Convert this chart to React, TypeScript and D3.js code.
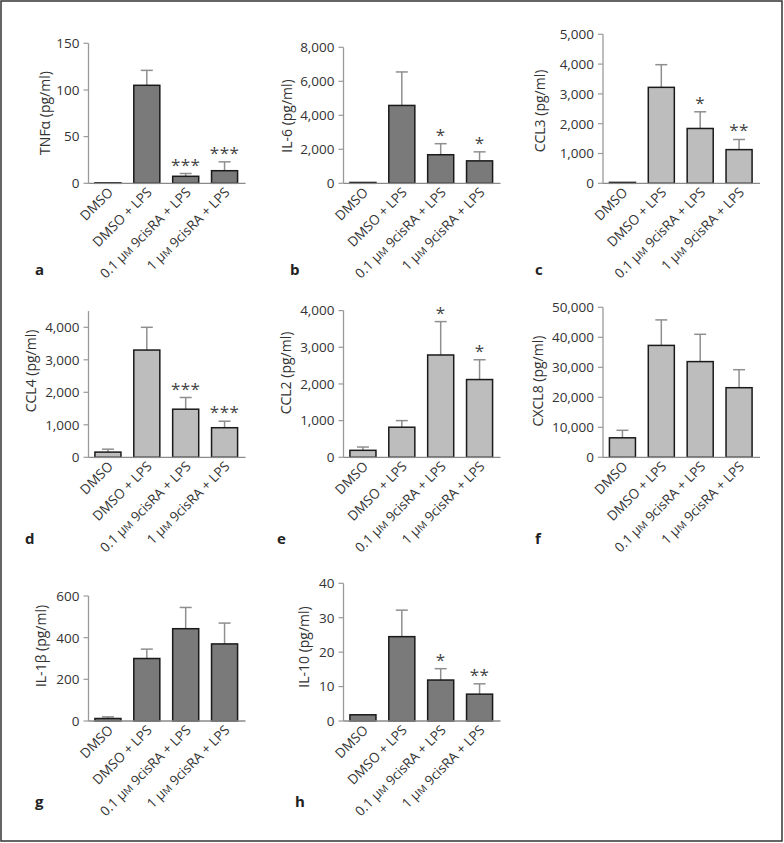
import React from "react";
import * as d3 from "d3";

const categories = ["DMSO", "DMSO + LPS", "0.1 μM 9cisRA + LPS", "1 μM 9cisRA + LPS"];

// a TNFα
const tnfMean = [0.5, 105, 7.5, 13.5];
const tnfErr = [0, 16, 3, 9.5];
const tnfStars = ["", "", "***", "***"];
const tnfTicks = [0, 50, 100, 150];
// b IL-6
const il6Mean = [50, 4580, 1680, 1320];
const il6Err = [0, 1970, 650, 530];
const il6Stars = ["", "", "*", "*"];
const il6Ticks = [0, 2000, 4000, 6000, 8000];
// c CCL3
const ccl3Mean = [30, 3220, 1840, 1130];
const ccl3Err = [0, 760, 560, 340];
const ccl3Stars = ["", "", "*", "**"];
const ccl3Ticks = [0, 1000, 2000, 3000, 4000, 5000];
// d CCL4
const ccl4Mean = [160, 3300, 1480, 910];
const ccl4Err = [90, 700, 360, 200];
const ccl4Stars = ["", "", "***", "***"];
const ccl4Ticks = [0, 1000, 2000, 3000, 4000];
// e CCL2
const ccl2Mean = [190, 820, 2790, 2120];
const ccl2Err = [90, 180, 910, 540];
const ccl2Stars = ["", "", "*", "*"];
const ccl2Ticks = [0, 1000, 2000, 3000, 4000];
// f CXCL8
const cxcl8Mean = [6500, 37300, 31900, 23200];
const cxcl8Err = [2500, 8500, 9100, 6000];
const cxcl8Stars = ["", "", "", ""];
const cxcl8Ticks = [0, 10000, 20000, 30000, 40000, 50000];
// g IL-1β
const il1bMean = [12, 300, 443, 370];
const il1bErr = [8, 45, 102, 100];
const il1bStars = ["", "", "", ""];
const il1bTicks = [0, 200, 400, 600];
// h IL-10
const il10Mean = [1.8, 24.5, 11.9, 7.8];
const il10Err = [0, 7.7, 3.3, 3];
const il10Stars = ["", "", "*", "**"];
const il10Ticks = [0, 10, 20, 30, 40];

const DARK = "#7a7a7a";
const LIGHT = "#bdbdbd";
const FONT = "'Open Sans', 'Noto Sans', sans-serif";

const panels = [
  { letter: "a", label: "TNFα (pg/ml)", mean: tnfMean, err: tnfErr, stars: tnfStars, ticks: tnfTicks, yMax: 150, fill: DARK,
    L: { axisX: 88.5, zeroY: 183.3, h: 140, labelX: 45, labelY: 113, letterX: 35, letterY: 275 } },
  { letter: "b", label: "IL-6 (pg/ml)", mean: il6Mean, err: il6Err, stars: il6Stars, ticks: il6Ticks, yMax: 8000, fill: DARK,
    L: { axisX: 343.5, zeroY: 183.3, h: 136, labelX: 287, labelY: 116, letterX: 290, letterY: 275 } },
  { letter: "c", label: "CCL3 (pg/ml)", mean: ccl3Mean, err: ccl3Err, stars: ccl3Stars, ticks: ccl3Ticks, yMax: 5000, fill: LIGHT,
    L: { axisX: 603, zeroY: 183.3, h: 149, labelX: 540, labelY: 111, letterX: 535, letterY: 275 } },
  { letter: "d", label: "CCL4 (pg/ml)", mean: ccl4Mean, err: ccl4Err, stars: ccl4Stars, ticks: ccl4Ticks, yMax: 4500, fill: LIGHT,
    L: { axisX: 88.5, zeroY: 457.3, h: 146.25, labelX: 31, labelY: 371, letterX: 25, letterY: 544 } },
  { letter: "e", label: "CCL2 (pg/ml)", mean: ccl2Mean, err: ccl2Err, stars: ccl2Stars, ticks: ccl2Ticks, yMax: 4000, fill: LIGHT,
    L: { axisX: 343.5, zeroY: 457.3, h: 146.7, labelX: 286, labelY: 373, letterX: 277, letterY: 544 } },
  { letter: "f", label: "CXCL8 (pg/ml)", mean: cxcl8Mean, err: cxcl8Err, stars: cxcl8Stars, ticks: cxcl8Ticks, yMax: 50000, fill: LIGHT,
    L: { axisX: 603, zeroY: 457.3, h: 150, labelX: 538, labelY: 381, letterX: 535, letterY: 544 } },
  { letter: "g", label: "IL-1β (pg/ml)", mean: il1bMean, err: il1bErr, stars: il1bStars, ticks: il1bTicks, yMax: 600, fill: DARK,
    L: { axisX: 88.5, zeroY: 721, h: 125, labelX: 41, labelY: 646, letterX: 35, letterY: 807 } },
  { letter: "h", label: "IL-10 (pg/ml)", mean: il10Mean, err: il10Err, stars: il10Stars, ticks: il10Ticks, yMax: 40, fill: DARK,
    L: { axisX: 343.5, zeroY: 721, h: 137.7, labelX: 304, labelY: 647, letterX: 295, letterY: 807 } },
];

const fmt = d3.format(",");

function CatLabel({ text, x, y }: { text: string; x: number; y: number }) {
  const m = text.match(/^(.*?)μM(.*)$/);
  return (
    <text x={x} y={y} textAnchor="end" transform={`rotate(-45, ${x}, ${y})`} fontSize={13.5} fill="#333" fontFamily={FONT}>
      {m ? (
        <>
          {m[1]}μ<tspan fontSize={10}>M</tspan>{m[2]}
        </>
      ) : (
        text
      )}
    </text>
  );
}

function Panel({ p }: { p: (typeof panels)[number] }) {
  const { L } = p;
  const x = d3
    .scaleBand<string>()
    .domain(categories)
    .range([L.axisX, L.axisX + 155.5])
    .paddingInner(0.33)
    .paddingOuter(0.165);
  const y = d3.scaleLinear().domain([0, p.yMax]).range([L.zeroY, L.zeroY - L.h]);
  const bw = x.bandwidth();
  return (
    <g>
      <line x1={L.axisX} x2={L.axisX} y1={y(0)} y2={y(p.yMax)} stroke="#9a9a9a" strokeWidth={1.3} />
      {p.ticks.map((t) => (
        <g key={t}>
          <line x1={L.axisX - 5} x2={L.axisX} y1={y(t)} y2={y(t)} stroke="#9a9a9a" strokeWidth={1.2} />
          <text x={L.axisX - 9} y={y(t)} dy="0.36em" textAnchor="end" fontSize={13.5} fill="#333" fontFamily={FONT}>
            {fmt(t)}
          </text>
        </g>
      ))}
      {categories.map((c, i) => {
        const x0 = x(c)!;
        const cx = x0 + bw / 2;
        const top = y(p.mean[i]);
        const et = y(p.mean[i] + p.err[i]);
        return (
          <g key={c}>
            {p.err[i] > 0 && (
              <g stroke="#8f8f8f" strokeWidth={1.5}>
                <line x1={cx} x2={cx} y1={top} y2={et} />
                <line x1={cx - 6} x2={cx + 6} y1={et} y2={et} />
              </g>
            )}
            <rect x={x0} y={top} width={bw} height={Math.max(0, y(0) - top)} fill={p.fill} stroke="#1a1a1a" strokeWidth={1.5} />
            {p.stars[i] && (
              <text x={cx} y={et - 3} textAnchor="middle" fontSize={17} fill="#444" fontFamily={FONT} letterSpacing={0.5}>
                {p.stars[i]}
              </text>
            )}
            <CatLabel text={c} x={cx + 6} y={L.zeroY + 10} />
          </g>
        );
      })}
      <line x1={L.axisX} x2={L.axisX + 157} y1={y(0)} y2={y(0)} stroke="#8a8a8a" strokeWidth={1.3} />
      <text
        x={L.labelX}
        y={L.labelY}
        transform={`rotate(-90, ${L.labelX}, ${L.labelY})`}
        textAnchor="middle"
        dy="0.35em"
        fontSize={14}
        fill="#333"
        fontFamily={FONT}
      >
        {p.label}
      </text>
      <text x={L.letterX} y={L.letterY} fontSize={15} fontWeight="bold" fill="#222" fontFamily={FONT}>
        {p.letter}
      </text>
    </g>
  );
}

export default function App() {
  return (
    <svg width={784} height={843} style={{ position: "absolute", left: 0, top: 0, background: "#fff" }}>
      <rect x={1} y={1} width={781} height={840} fill="#fff" stroke="#333" strokeWidth={1.5} />
      {panels.map((p) => (
        <Panel key={p.letter} p={p} />
      ))}
    </svg>
  );
}
